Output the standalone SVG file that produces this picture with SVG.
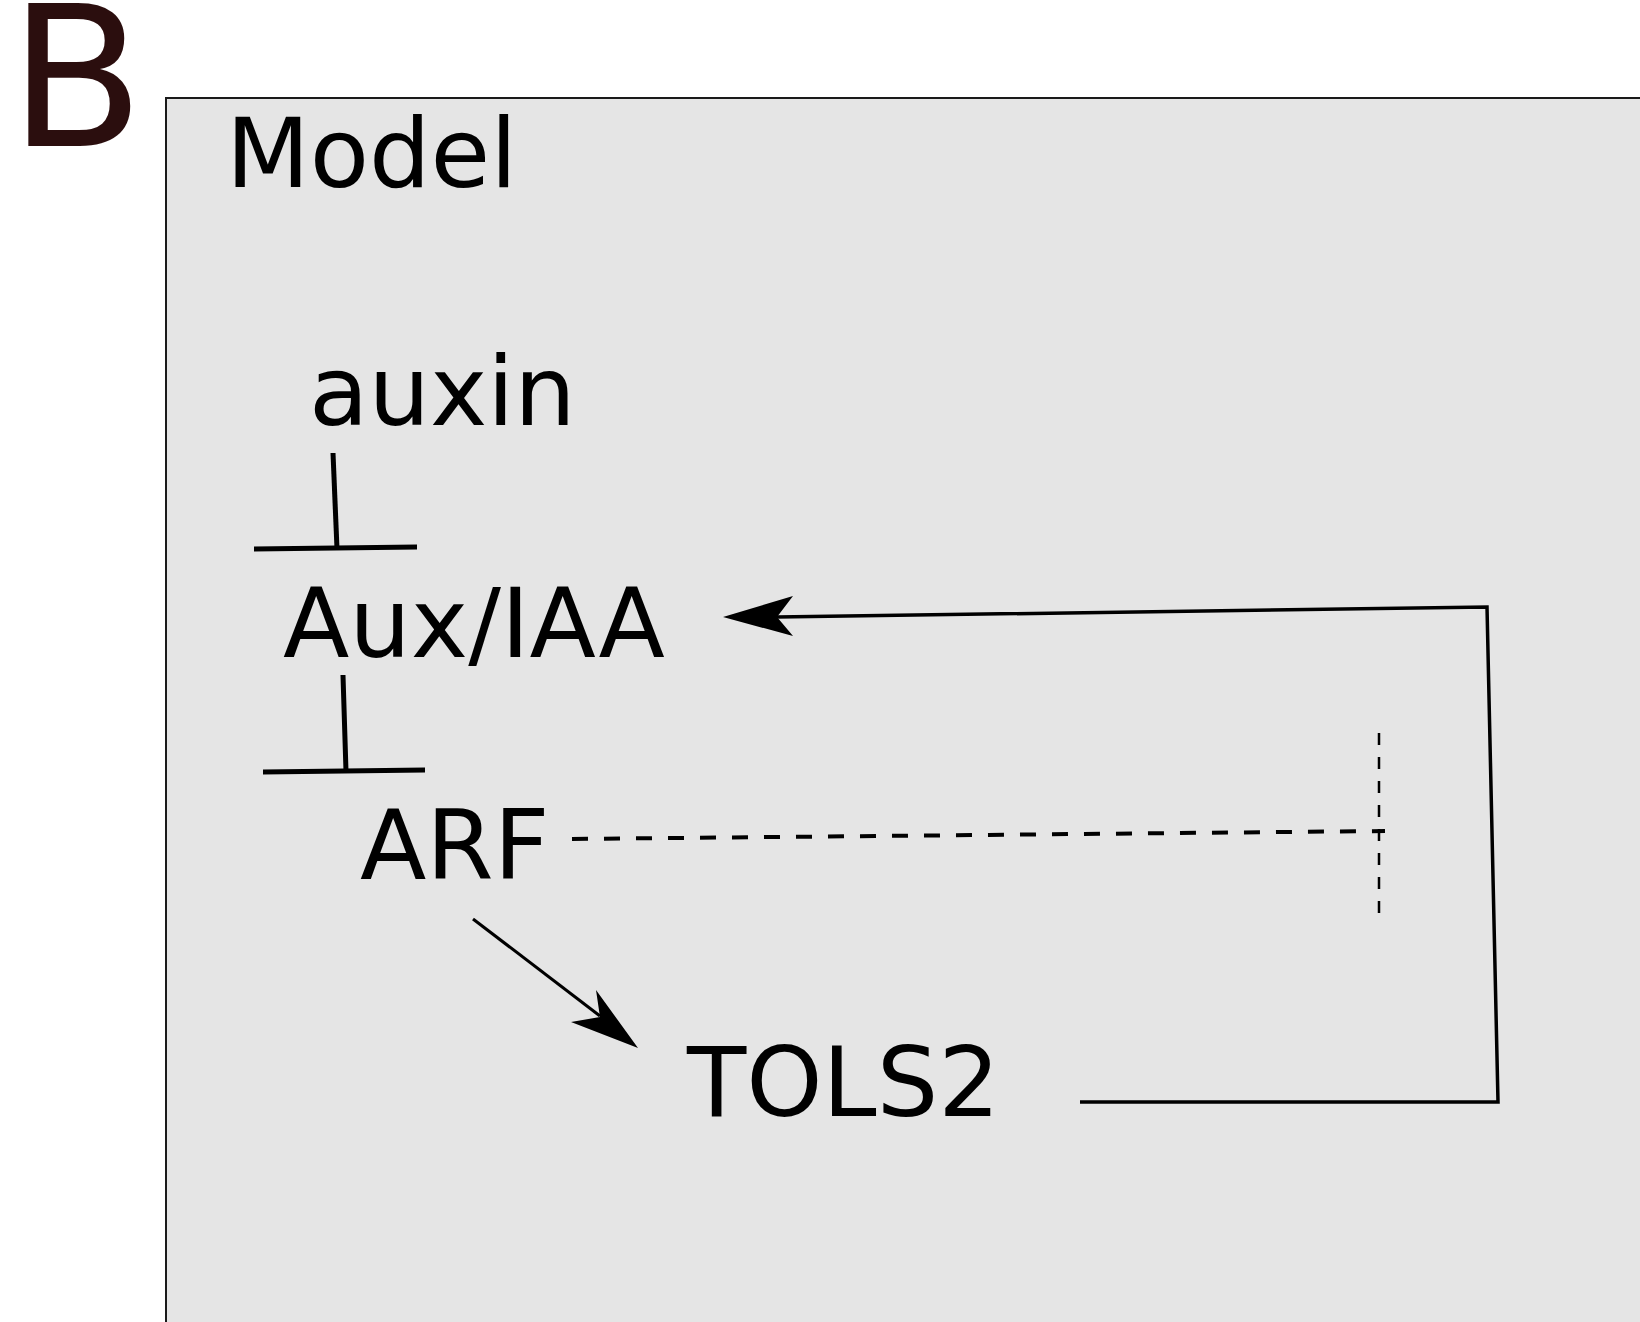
<svg xmlns="http://www.w3.org/2000/svg" width="1640" height="1322" viewBox="0 0 1640 1322">
  <style>
    .lbl { font-family: "DejaVu Sans", "Liberation Sans", sans-serif; font-size: 97px; fill: #000; }
    .ln { fill: none; stroke: #000; stroke-linecap: butt; stroke-linejoin: miter; }
    .head { fill: #000; stroke: none; }
  </style>
  <rect x="0" y="0" width="1640" height="1322" fill="#ffffff"/>
  <g id="panel-label">
    <text x="9" y="146" font-family="DejaVu Sans, Liberation Sans, sans-serif" font-size="197" fill="#2b0e0e">B</text>
  </g>
  <g id="model-box">
    <rect x="166" y="98" width="1500" height="1260" fill="#e5e5e5" stroke="#1a1a1a" stroke-width="2"/>
    <text class="lbl" x="226" y="187">Model</text>
  </g>
  <g id="node-auxin">
    <text class="lbl" x="309" y="425">auxin</text>
  </g>
  <g id="node-auxiaa">
    <text class="lbl" x="283" y="657">Aux/IAA</text>
  </g>
  <g id="node-arf">
    <text class="lbl" x="360" y="879">ARF</text>
  </g>
  <g id="node-tols2">
    <text class="lbl" x="687" y="1116">TOLS2</text>
  </g>
  <g id="connectors">
    <!-- auxin inhibits Aux/IAA -->
    <line class="ln" x1="333" y1="453" x2="337" y2="549" stroke-width="5"/>
    <line class="ln" x1="254" y1="549" x2="417" y2="547" stroke-width="5"/>
    <!-- Aux/IAA inhibits ARF -->
    <line class="ln" x1="343" y1="675" x2="346" y2="771" stroke-width="5"/>
    <line class="ln" x1="263" y1="772" x2="425" y2="770" stroke-width="5"/>
    <!-- ARF dashed inhibition -->
    <line class="ln" x1="572" y1="839" x2="1385" y2="831" stroke-width="4" stroke-dasharray="16 16"/>
    <line class="ln" x1="1379" y1="733" x2="1379" y2="913" stroke-width="2.5" stroke-dasharray="12 12"/>
    <!-- ARF activates TOLS2 -->
    <line class="ln" x1="473" y1="919" x2="600" y2="1016" stroke-width="3"/>
    <polygon class="head" points="638,1048 596,990 600,1017 571,1022"/>
    <!-- TOLS2 feedback to Aux/IAA -->
    <polyline class="ln" points="1080,1102 1498,1102 1487,607 777,617" stroke-width="3.5"/>
    <polygon class="head" points="723,617 793,596 777,617 793,636"/>
  </g>
</svg>
